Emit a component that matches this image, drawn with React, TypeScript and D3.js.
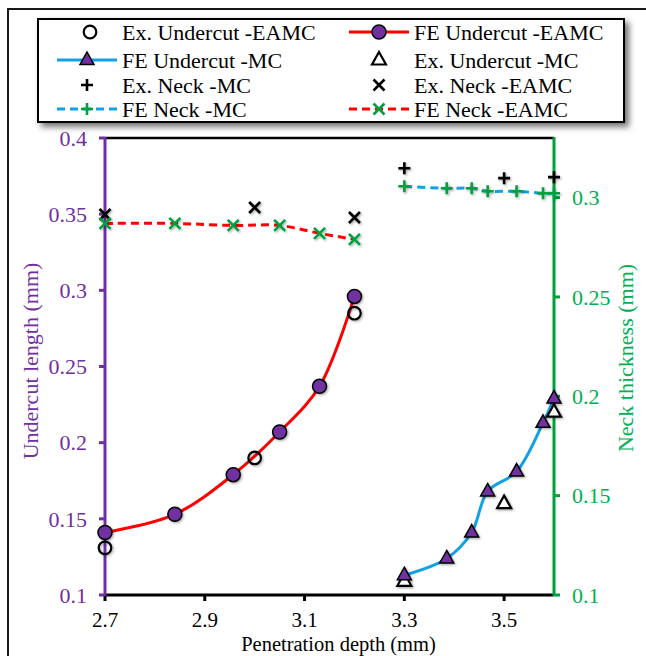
import React from "react";
import * as d3 from "d3";

// ---------- data ----------
const feUndercutEamcX = [2.7, 2.84, 2.957, 3.05, 3.13, 3.2];
const feUndercutEamcY = [0.141, 0.153, 0.179, 0.207, 0.237, 0.296];
const exUndercutEamcX = [2.7, 3.0, 3.2];
const exUndercutEamcY = [0.131, 0.19, 0.285];

const mcX = [3.3, 3.385, 3.435, 3.467, 3.525, 3.578, 3.6];
const feUndercutMcY = [0.113, 0.124, 0.141, 0.168, 0.181, 0.213, 0.229];
const exUndercutMcX = [3.3, 3.5, 3.6];
const exUndercutMcY = [0.109, 0.16, 0.22];

const feNeckEamcY = [0.287, 0.287, 0.286, 0.286, 0.282, 0.279];
const exNeckEamcX = [2.7, 3.0, 3.2];
const exNeckEamcY = [0.2915, 0.295, 0.29];
const feNeckMcY = [0.3057, 0.3047, 0.3047, 0.3032, 0.3032, 0.3022, 0.3022];
const exNeckMcX = [3.3, 3.5, 3.6];
const exNeckMcY = [0.3148, 0.3098, 0.3103];

const xTicks = [2.7, 2.9, 3.1, 3.3, 3.5];
const leftTicks = [0.1, 0.15, 0.2, 0.25, 0.3, 0.35, 0.4];
const rightTicks = [0.1, 0.15, 0.2, 0.25, 0.3];

// ---------- styling ----------
const FONT = "'Liberation Serif', 'Times New Roman', 'DejaVu Serif', serif";
const PURPLE = "#7030A0";
const GREEN_AX = "#00A03C";
const GREEN_TX = "#00B050";
const GREEN_MK = "#00A040";
const BLUE = "#12A0E6";
const RED = "#FF0000";

const L = 105, R = 554, T = 138, B = 595;
const x = d3.scaleLinear().domain([2.7, 3.6]).range([L, R]);
const yL = d3.scaleLinear().domain([0.1, 0.4]).range([B, T]);
const yR = d3.scaleLinear().domain([0.1, 0.33]).range([B, T]);

const zip = (xs: number[], ys: number[]) => xs.map((v, i) => [v, ys[i]] as [number, number]);

function Circle({ cx, cy, fill }: { cx: number; cy: number; fill: string }) {
  const open = fill === "none";
  return <circle cx={cx} cy={cy} r={open ? 6.3 : 7} fill={open ? "white" : fill} fillOpacity={open ? 0 : 1} stroke="black" strokeWidth={open ? 2.2 : 1.5} />;
}
function Tri({ cx, cy, fill }: { cx: number; cy: number; fill: string }) {
  const s = 7;
  const p = `M${cx},${cy - 8}L${cx + s},${cy + 4.5}L${cx - s},${cy + 4.5}Z`;
  return <path d={p} fill={fill} stroke="black" strokeWidth={fill === "white" ? 2.2 : 1.5} />;
}
function Plus({ cx, cy, color, s = 6 }: { cx: number; cy: number; color: string; s?: number }) {
  return <path d={`M${cx - s},${cy}H${cx + s}M${cx},${cy - s}V${cy + s}`} stroke={color} strokeWidth={2.6} fill="none" />;
}
function Cross({ cx, cy, color, s = 5.5 }: { cx: number; cy: number; color: string; s?: number }) {
  return <path d={`M${cx - s},${cy - s}L${cx + s},${cy + s}M${cx - s},${cy + s}L${cx + s},${cy - s}`} stroke={color} strokeWidth={2.6} fill="none" />;
}

export default function App() {
  const lineL = d3.line<[number, number]>().x(d => x(d[0])).y(d => yL(d[1])).curve(d3.curveCatmullRom);
  const lineR = d3.line<[number, number]>().x(d => x(d[0])).y(d => yR(d[1])).curve(d3.curveCatmullRom);

  const feUEamc = zip(feUndercutEamcX, feUndercutEamcY);
  const exUEamc = zip(exUndercutEamcX, exUndercutEamcY);
  const feUMc = zip(mcX, feUndercutMcY);
  const exUMc = zip(exUndercutMcX, exUndercutMcY);
  const feNEamc = zip(feUndercutEamcX, feNeckEamcY);
  const exNEamc = zip(exNeckEamcX, exNeckEamcY);
  const feNMc = zip(mcX, feNeckMcY);
  const exNMc = zip(exNeckMcX, exNeckMcY);

  const fs = 22;
  const legRows = [32, 60, 85, 109];
  const lc = 87, rc = 379, ltx = 122, rtx = 414;

  return (
    <svg width={646} height={656} style={{ position: "absolute", left: 0, top: 0, background: "white", fontFamily: FONT }}>
      <defs>
        <filter id="msh" x="-50%" y="-50%" width="200%" height="200%">
          <feDropShadow dx="1.2" dy="1.2" stdDeviation="1.3" floodColor="#000" floodOpacity="0.35" />
        </filter>
        <filter id="lsh" x="-5%" y="-10%" width="115%" height="130%">
          <feDropShadow dx="4" dy="4" stdDeviation="3" floodColor="#000" floodOpacity="0.55" />
        </filter>
      </defs>
      <rect x={0} y={0} width={646} height={656} fill="white" />
      {/* outer frame */}
      <rect x={8} y={9} width={660} height={670} fill="none" stroke="black" strokeWidth={1.8} />

      {/* legend */}
      <rect x={38} y={19} width={586} height={103} fill="white" stroke="black" strokeWidth={2} filter="url(#lsh)" />
      <g fontSize={fs} fill="black">
        <Circle cx={90} cy={legRows[0]} fill="none" />
        <text x={ltx} y={legRows[0]} dy="0.35em">Ex. Undercut -EAMC</text>
        <line x1={349} x2={409} y1={legRows[0]} y2={legRows[0]} stroke={RED} strokeWidth={3} />
        <Circle cx={rc} cy={legRows[0]} fill={PURPLE} />
        <text x={rtx} y={legRows[0]} dy="0.35em">FE Undercut -EAMC</text>

        <line x1={57} x2={117} y1={legRows[1]} y2={legRows[1]} stroke={BLUE} strokeWidth={3} />
        <Tri cx={lc} cy={legRows[1]} fill={PURPLE} />
        <text x={ltx} y={legRows[1]} dy="0.35em">FE Undercut -MC</text>
        <Tri cx={rc} cy={legRows[1]} fill="white" />
        <text x={rtx} y={legRows[1]} dy="0.35em">Ex. Undercut -MC</text>

        <Plus cx={lc} cy={legRows[2]} color="black" />
        <text x={ltx} y={legRows[2]} dy="0.35em">Ex. Neck -MC</text>
        <Cross cx={rc} cy={legRows[2]} color="black" />
        <text x={rtx} y={legRows[2]} dy="0.35em">Ex. Neck -EAMC</text>

        <line x1={57} x2={117} y1={legRows[3]} y2={legRows[3]} stroke={BLUE} strokeWidth={3} strokeDasharray="8,5" />
        <Plus cx={lc} cy={legRows[3]} color={GREEN_MK} />
        <text x={ltx} y={legRows[3]} dy="0.35em">FE Neck -MC</text>
        <line x1={349} x2={409} y1={legRows[3]} y2={legRows[3]} stroke={RED} strokeWidth={3} strokeDasharray="8,5" />
        <Cross cx={rc} cy={legRows[3]} color={GREEN_MK} />
        <text x={rtx} y={legRows[3]} dy="0.35em">FE Neck -EAMC</text>
      </g>

      {/* plot frame */}
      <line x1={L} x2={R} y1={T} y2={T} stroke="black" strokeWidth={2.5} />
      <line x1={L} x2={R} y1={B} y2={B} stroke="black" strokeWidth={3} />
      {xTicks.map(t => (
        <g key={t}>
          <line x1={x(t)} x2={x(t)} y1={B} y2={B + 6} stroke="black" strokeWidth={3} />
          <text x={x(t)} y={627} textAnchor="middle" fontSize={21}>{t.toFixed(1)}</text>
        </g>
      ))}
      <text x={(L + R) / 2 + 9} y={651} textAnchor="middle" fontSize={20.5}>Penetration depth (mm)</text>

      {/* left axis */}
      <line x1={L} x2={L} y1={T - 1} y2={B + 1} stroke={PURPLE} strokeWidth={3} />
      {leftTicks.map(t => (
        <g key={t}>
          <line x1={L - 6} x2={L} y1={yL(t)} y2={yL(t)} stroke={PURPLE} strokeWidth={3} />
          <text x={87} y={yL(t)} dy="0.35em" textAnchor="end" fontSize={fs} fill={PURPLE}>{String(t)}</text>
        </g>
      ))}
      <text transform={`translate(38,${361}) rotate(-90)`} textAnchor="middle" fontSize={fs} fill={PURPLE}>Undercut length (mm)</text>

      {/* right axis */}
      <line x1={R} x2={R} y1={T - 1} y2={B + 1} stroke={GREEN_AX} strokeWidth={3} />
      {rightTicks.map(t => (
        <g key={t}>
          <line x1={R} x2={R + 6} y1={yR(t)} y2={yR(t)} stroke={GREEN_AX} strokeWidth={3} />
          <text x={572} y={yR(t)} dy="0.35em" fontSize={fs} fill={GREEN_TX}>{String(t)}</text>
        </g>
      ))}
      <text transform={`translate(633,${358}) rotate(-90)`} textAnchor="middle" fontSize={fs} fill={GREEN_TX}>Neck thickness (mm)</text>

      {/* lines */}
      <path d={lineL(feUEamc) || ""} fill="none" stroke={RED} strokeWidth={3} />
      <path d={lineL(feUMc) || ""} fill="none" stroke={BLUE} strokeWidth={3} />
      <path d={lineR(feNEamc) || ""} fill="none" stroke={RED} strokeWidth={3} strokeDasharray="8,5" />
      <path d={lineR(feNMc) || ""} fill="none" stroke={BLUE} strokeWidth={3} strokeDasharray="8,5" />

      {/* markers */}
      <g filter="url(#msh)">
        {exUEamc.map((d, i) => <Circle key={"a" + i} cx={x(d[0])} cy={yL(d[1])} fill="none" />)}
        {feUEamc.map((d, i) => <Circle key={"b" + i} cx={x(d[0])} cy={yL(d[1])} fill={PURPLE} />)}
        {exUMc.map((d, i) => <Tri key={"c" + i} cx={x(d[0])} cy={yL(d[1])} fill="white" />)}
        {feUMc.map((d, i) => <Tri key={"d" + i} cx={x(d[0])} cy={yL(d[1])} fill={PURPLE} />)}
        {exNEamc.map((d, i) => <Cross key={"e" + i} cx={x(d[0])} cy={yR(d[1])} color="black" />)}
        {feNEamc.map((d, i) => <Cross key={"f" + i} cx={x(d[0])} cy={yR(d[1])} color={GREEN_MK} />)}
        {exNMc.map((d, i) => <Plus key={"g" + i} cx={x(d[0])} cy={yR(d[1])} color="black" />)}
        {feNMc.map((d, i) => <Plus key={"h" + i} cx={x(d[0])} cy={yR(d[1])} color={GREEN_MK} />)}
      </g>
    </svg>
  );
}
